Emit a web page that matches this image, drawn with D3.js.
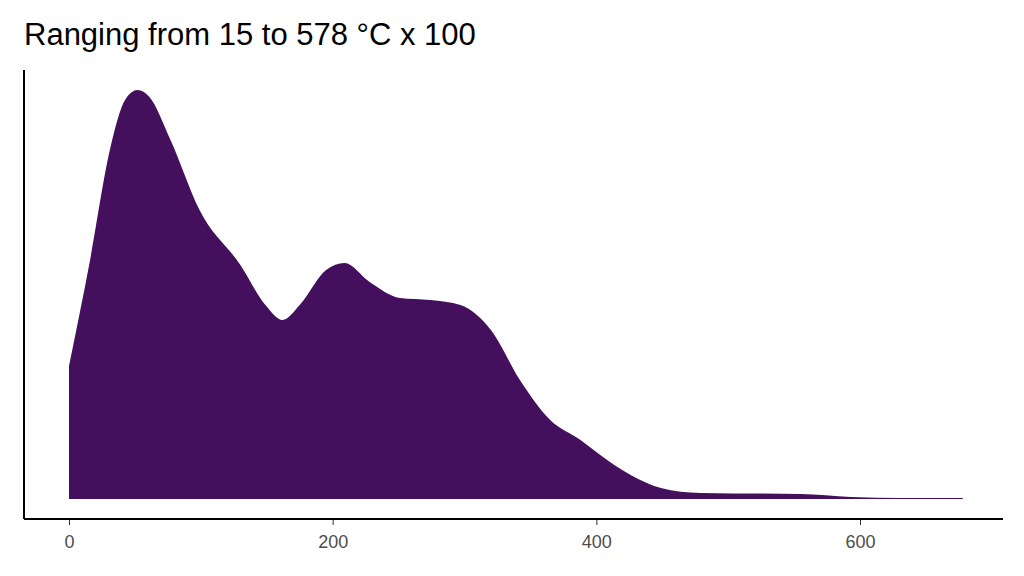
<!DOCTYPE html>
<html><head><meta charset="utf-8">
<script src="https://cdn.jsdelivr.net/npm/d3@7"></script>
<style>body{margin:0;background:#fff}</style>
</head><body>
<script>
// density estimate (relative units)
const temps = [0,16,31,42.5,52,61,77,99,130,149,162,175,195,209,228,251,274,297,320,342,365,388,403,426,449,479,555,593,631,678];
const density = [133,239,349,399,409,402,359,289,234,194,179,194,229,236,217,201,199,194,169,119,79,59,44,24,11,6,5,2,1,1];
const xTicks = [0,200,400,600];

const width = 1024, height = 576;
const svg = d3.select("body").append("svg").attr("width", width).attr("height", height)
  .style("font-family", "Liberation Sans, Arial, sans-serif");

const x = d3.scaleLinear().domain([0, 600]).range([69, 860]);
const y = d3.scaleLinear().domain([0, 429]).range([499, 70]);
const pts = temps.map((t, i) => [t, density[i]]);

svg.append("path").datum(pts)
  .attr("fill", "#440F5D")
  .attr("d", d3.area().curve(d3.curveMonotoneX).x(d => x(d[0])).y0(y(0)).y1(d => y(d[1])));

svg.append("line").attr("x1", 24).attr("x2", 24).attr("y1", 70).attr("y2", 519).attr("stroke", "#000").attr("stroke-width", 2);
const xa = svg.append("g").attr("transform", "translate(0,519)")
  .call(d3.axisBottom(x).tickValues(xTicks).tickSize(6).tickPadding(10).tickSizeOuter(0));
xa.select(".domain").remove();
svg.append("line").attr("x1", 24).attr("x2", 1003).attr("y1", 519).attr("y2", 519).attr("stroke", "#000").attr("stroke-width", 2);
xa.selectAll("line").attr("stroke", "#333");
xa.selectAll("text").attr("font-size", 18).attr("fill", "#4d4d4d").style("font-family", "Liberation Sans, Arial, sans-serif");

svg.append("text").attr("x", 24).attr("y", 45).attr("font-size", 31).attr("fill", "#000")
  .text("Ranging from 15 to 578 °C x 100");
</script>
</body></html>
